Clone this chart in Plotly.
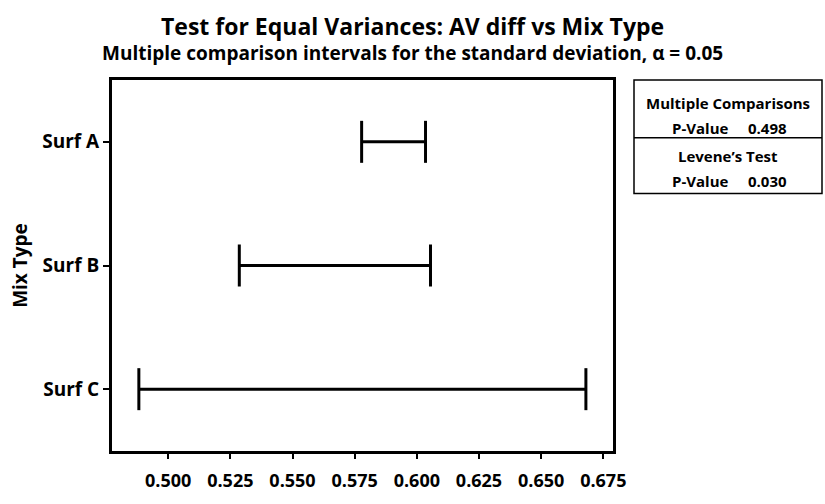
import plotly.graph_objects as go

# Data
categories = ["Surf A", "Surf B", "Surf C"]
lower = [0.5778, 0.5286, 0.4882]
upper = [0.6035, 0.6055, 0.6680]
x_ticks = [0.500, 0.525, 0.550, 0.575, 0.600, 0.625, 0.650, 0.675]
mc_pvalue = "0.498"
levene_pvalue = "0.030"

FONT = "Open Sans"
BLACK = "#000000"

fig = go.Figure()
for cat, lo, hi in zip(categories, lower, upper):
    fig.add_trace(go.Scatter(
        x=[lo, hi], y=[cat, cat], mode="lines+markers",
        line=dict(color=BLACK, width=3),
        marker=dict(symbol="line-ns", size=30, line=dict(color=BLACK, width=3)),
        showlegend=False, hoverinfo="x+y",
    ))

W, H = 825, 504
L, R, T, B = 112, 613, 80, 472
pw, ph = R - L, B - T

def px(x):
    return (x - L) / pw

def py(y):
    return (B - y) / ph

fig.update_layout(
    width=W, height=H,
    margin=dict(l=L, r=W - R, t=T, b=H - B),
    paper_bgcolor="white", plot_bgcolor="white",
    font=dict(family=FONT, color=BLACK),
    xaxis=dict(
        range=[0.4774, 0.6789], tickvals=x_ticks,
        ticktext=[f"{v:.3f}" for v in x_ticks],
        showline=True, linecolor=BLACK, linewidth=3, mirror=True,
        ticks="outside", ticklen=5, tickwidth=2, tickcolor=BLACK,
        ticklabelstandoff=6,
        showgrid=False, zeroline=False,
        tickfont=dict(family=FONT, size=18, color=BLACK, weight="bold"),
    ),
    yaxis=dict(
        type="category", categoryorder="array", categoryarray=categories,
        range=[2.5, -0.5],
        showline=True, linecolor=BLACK, linewidth=3, mirror=True,
        ticks="outside", ticklen=6, tickwidth=2, tickcolor=BLACK,
        showgrid=False, zeroline=False,
        tickfont=dict(family=FONT, size=19, color=BLACK, weight="bold"),
        title=dict(text="Mix Type", standoff=10,
                   font=dict(family=FONT, size=19, color=BLACK, weight="bold")),
    ),
)

# Titles
fig.add_annotation(text="<b>Test for Equal Variances: AV diff vs Mix Type</b>",
                   x=px(412.5), y=py(23), xref="paper", yref="paper",
                   showarrow=False, xanchor="center", yanchor="middle",
                   font=dict(family=FONT, size=23, color=BLACK))
fig.add_annotation(text="<b>Multiple comparison intervals for the standard deviation, α = 0.05</b>",
                   x=px(412.5), y=py(51), xref="paper", yref="paper",
                   showarrow=False, xanchor="center", yanchor="middle",
                   font=dict(family=FONT, size=19, color=BLACK))

# Side box
bx0, bx1, by0, bdiv, by1 = 634, 822, 80, 141, 200
fig.add_shape(type="rect", xref="paper", yref="paper",
              x0=px(bx0), x1=px(bx1), y0=py(by1), y1=py(by0),
              line=dict(color=BLACK, width=1.5), fillcolor="white")
fig.add_shape(type="line", xref="paper", yref="paper",
              x0=px(bx0), x1=px(bx1), y0=py(bdiv), y1=py(bdiv),
              line=dict(color=BLACK, width=1.5))
cx = (bx0 + bx1) / 2
box_font = dict(family=FONT, size=15, color=BLACK)
fig.add_annotation(text="<b>Multiple Comparisons</b>", x=px(cx), y=py(104),
                   xref="paper", yref="paper", showarrow=False,
                   xanchor="center", yanchor="middle", font=box_font)
fig.add_annotation(text="<b>Levene’s Test</b>", x=px(cx), y=py(160),
                   xref="paper", yref="paper", showarrow=False,
                   xanchor="center", yanchor="middle", font=box_font)
for yy, val in [(131, mc_pvalue), (187, levene_pvalue)]:
    fig.add_annotation(text="<b>P-Value</b>", x=px(730), y=py(yy),
                       xref="paper", yref="paper", showarrow=False,
                       xanchor="right", yanchor="middle", font=box_font)
    fig.add_annotation(text=f"<b>{val}</b>", x=px(746), y=py(yy),
                       xref="paper", yref="paper", showarrow=False,
                       xanchor="left", yanchor="middle", font=box_font)

fig.write_html("out.html")
